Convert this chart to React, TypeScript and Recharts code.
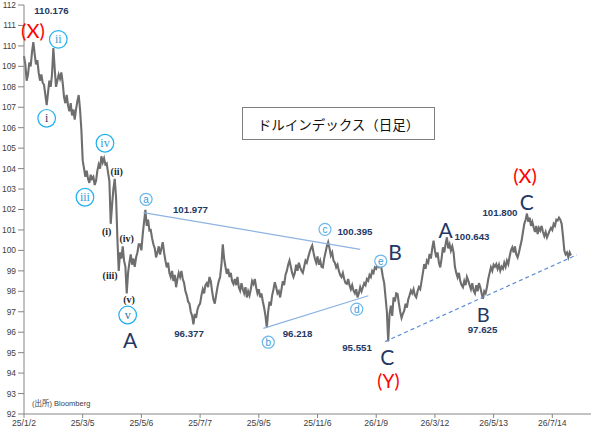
import React from 'react'
import { LineChart, Line, XAxis, YAxis, ReferenceLine, ReferenceDot } from 'recharts'

// daily closes, split by wave leg
const toWaveA = [
  109.5, 109.1, 108.3, 108.6, 109.2, 109.0, 109.7, 110.18,
  109.6, 109.1, 109.3, 108.7, 108.3,
  108.6, 108.2, 108.1, 107.6, 107.1,
  107.7, 108.3, 108.0, 108.6, 109.9,
  108.9, 108.0, 108.3, 108.6, 108.4, 108.7, 108.2, 107.5,
  107.2, 107.6, 107.1, 106.8, 107.2, 106.6, 106.9, 106.4, 106.9, 107.3, 107.6,
  106.9, 105.9, 104.4, 104.0, 103.6, 103.9, 103.5, 103.3, 103.7, 103.5, 103.6,
  103.2, 103.4, 103.9, 104.2, 104.0, 104.6, 104.3, 104.5, 104.2, 104.25,
  103.8, 103.4, 101.3, 102.2, 103.0, 103.5, 102.6, 100.6, 99.0, 99.9, 99.6,
  100.2, 99.5, 99.2, 97.9,
]
const triangleB = [
  98.9, 99.4, 99.8, 99.3, 99.6, 99.2, 99.65, 99.9, 100.3, 100.3, 100.0, 100.8, 101.4, 101.98,
  101.2, 101.5, 100.97, 101.0, 100.6, 100.3, 100.1, 99.66, 99.9, 100.2, 99.8, 100.1,
  100.4, 99.9, 99.5, 99.17, 99.4, 98.9, 98.7, 99.0, 98.5, 98.8, 98.2, 98.6,
  98.9, 98.7, 99.0, 98.6, 98.4, 98.0, 97.8, 97.5, 97.4, 97.0, 96.8, 96.38,
  96.9, 96.7, 97.1, 97.3, 97.4, 97.8, 98.1, 97.9, 98.3, 98.4, 98.2, 98.7,
  98.5, 98.0, 97.6, 97.4, 97.8, 98.2, 98.5, 98.7, 99.3, 100.3, 99.6, 99.2, 98.85,
  99.1, 98.7, 98.9, 98.5, 98.36, 98.6, 98.3, 98.7, 98.2, 98.03, 98.4, 98.1,
  97.9, 98.2, 97.7, 98.0, 97.8, 98.1, 98.5, 98.36, 98.6, 98.2, 97.9, 98.1,
  97.7, 97.9, 97.5, 97.2, 96.8, 96.22,
  97.0, 97.5, 97.3, 97.8, 98.1, 98.44, 98.2, 97.9, 98.0, 97.7, 98.1, 98.5,
  98.3, 98.8, 99.0, 99.3, 99.5, 99.2, 98.9, 98.7, 98.9, 99.3, 99.0, 99.4,
  99.17, 99.0, 98.9, 99.2, 99.5, 99.4, 99.66, 99.9, 100.1, 100.24,
  99.9, 99.6, 99.4, 99.7, 99.3, 99.5, 99.2, 99.17, 99.6, 99.9, 100.2, 100.4,
  100.1, 99.75, 99.9, 99.5, 99.4, 99.17, 99.3, 99.0, 98.8, 98.7, 98.9, 98.6,
  98.4, 98.36, 98.6, 98.3, 98.1, 98.3, 98.03, 97.9, 98.1, 97.7,
  97.9, 98.2, 98.0, 98.2, 98.4, 98.3, 98.6, 98.52, 98.8, 98.7, 99.0, 98.9,
  99.17, 99.1, 99.3, 99.2, 99.42,
]
const toWaveYC = [99.1, 98.7, 98.4, 97.7, 97.0, 95.55]
const abcToX = [
  96.9, 97.3, 96.8, 97.7, 97.5, 97.9, 97.87, 97.4, 97.0, 96.7, 96.9, 97.05,
  97.4, 97.2, 97.6, 97.8, 98.03, 97.9, 98.1, 97.8, 97.7, 98.0, 98.2, 98.1,
  98.5, 98.9, 99.33,
  99.1, 99.5, 99.4, 99.83, 99.6, 100.1, 100.48, 100.0, 99.66, 99.9, 99.4,
  99.17, 99.6, 100.15, 99.9, 100.3, 100.64, 100.1, 100.3, 99.99, 100.2, 99.9,
  99.2, 98.9, 98.68, 98.9, 98.5, 98.3, 98.2, 98.5, 98.3, 98.7, 98.52, 98.3,
  98.1, 98.4, 98.03, 97.9, 98.3, 98.0, 98.4, 98.2, 97.9, 97.63,
  98.0, 97.9, 98.2, 98.6, 98.9, 99.17, 99.0, 99.3, 99.2, 99.33, 99.1, 99.3,
  99.0, 99.2, 99.1, 99.4, 99.2, 99.5, 99.33, 99.7, 100.0, 100.15, 99.9, 100.2,
  99.8, 99.66, 99.9, 100.2, 100.48,
  100.9, 101.3, 101.5, 101.8, 101.4, 101.6, 101.2, 101.4, 101.13, 100.9, 101.2,
  100.8, 101.1, 100.97, 101.2, 100.9, 100.7, 100.9, 100.64, 100.8, 100.97, 101.1,
  101.0, 101.3, 101.2, 101.5, 101.46, 101.6, 101.5, 101.3, 100.7, 99.99, 99.8,
  99.9, 99.66, 99.9, 99.75,
]

const dateLabels = ['25/1/2', '25/3/5', '25/5/6', '25/7/7', '25/9/5', '25/11/6', '26/1/9', '26/3/12', '26/5/13', '26/7/14']
const xTicks = [0, 44, 88, 132, 176, 220, 264, 308, 352, 396]
const yTicks = [92, 93, 94, 95, 96, 97, 98, 99, 100, 101, 102, 103, 104, 105, 106, 107, 108, 109, 110, 111, 112]

// annotations, anchored in (trading day, price)
const waveLetters = [
  { t: 'A', x: 79.5, y: 95.65, s: 21 },
  { t: 'B', x: 278.1, y: 99.97, s: 21 },
  { t: 'C', x: 272.3, y: 94.82, s: 21 },
  { t: 'A', x: 316.1, y: 101.0, s: 21 },
  { t: 'B', x: 344.3, y: 96.9, s: 20 },
  { t: 'C', x: 376.8, y: 102.38, s: 21 },
]
const degreeLabels = [
  { t: '(X)', x: 6.7, y: 110.78, s: 20 },
  { t: '(Y)', x: 273.1, y: 93.62, s: 19 },
  { t: '(X)', x: 375.6, y: 103.69, s: 20 },
]
const levelLabels = [
  { t: '110.176', x: 20.6, y: 111.73 },
  { t: '96.377', x: 123.7, y: 95.96 },
  { t: '101.977', x: 124.8, y: 102.02 },
  { t: '96.218', x: 205, y: 95.96 },
  { t: '100.395', x: 248.1, y: 100.9 },
  { t: '95.551', x: 249.6, y: 95.23 },
  { t: '100.643', x: 335.8, y: 100.67 },
  { t: '97.625', x: 343.7, y: 96.12 },
  { t: '101.800', x: 356.8, y: 101.83 },
]
const circledRoman = [
  { t: 'i', x: 17, y: 106.46, c: '#1f3864' },
  { t: 'ii', x: 25.7, y: 110.32, c: '#3a9ad9' },
  { t: 'iii', x: 45.7, y: 102.6, c: '#3a9ad9' },
  { t: 'iv', x: 60.7, y: 105.24, c: '#3a9ad9' },
  { t: 'v', x: 77.7, y: 96.84, c: '#2e74b5' },
]
const subWaves = [
  { t: '(ii)', x: 69.5, y: 103.88 },
  { t: '(i)', x: 62, y: 100.91 },
  { t: '(iv)', x: 77, y: 100.56 },
  { t: '(iii)', x: 64.5, y: 98.75 },
  { t: '(v)', x: 78.7, y: 97.61 },
]
const triangleLetters = [
  { t: 'a', x: 91.5, y: 102.5 },
  { t: 'b', x: 183.1, y: 95.51 },
  { t: 'c', x: 225.6, y: 101.03 },
  { t: 'd', x: 249.4, y: 97.13 },
  { t: 'e', x: 267.4, y: 99.48 },
]

const closes = [...toWaveA, ...triangleB, ...toWaveYC, ...abcToX]
const rows = closes.map((v, i) => ({ i, v }))

const NAVY = '#1f3864'
const label = (t: string, style: any) => (p: any) => (
  <text x={p.cx} y={p.cy} textAnchor="middle" dominantBaseline="central" {...style}>{t}</text>
)
const circled = (t: string, r: number, stroke: string, color: string, fs: number, font: string) => (p: any) => (
  <g>
    <circle cx={p.cx} cy={p.cy} r={r} fill="#fff" stroke={stroke} strokeWidth={1.2} />
    <text x={p.cx} y={p.cy} textAnchor="middle" dominantBaseline="central" fontSize={fs} fontFamily={font} fill={color}>{t}</text>
  </g>
)

export default function App() {
  return (
    <div style={{ position: 'absolute', left: 0, top: 0, width: 604, height: 444, background: '#fff' }}>
      <LineChart width={604} height={444} data={rows} margin={{ top: 5, right: 13, bottom: 10, left: 0 }}>
        <XAxis
          type="number"
          dataKey="i"
          domain={[0, 425]}
          ticks={xTicks}
          tickFormatter={(v) => dateLabels[xTicks.indexOf(v)] ?? ''}
          height={20}
          tickSize={4}
          stroke="#868686"
          tick={{ fontSize: 8.6, fill: '#404040', fontFamily: 'Liberation Sans' }}
        />
        <YAxis
          domain={[92, 112]}
          ticks={yTicks}
          interval={0}
          width={24}
          tickSize={6}
          stroke="#868686"
          tick={{ fontSize: 8.4, fill: '#404040', fontFamily: 'Liberation Sans' }}
        />
        <Line dataKey="v" stroke="#6e6e6e" strokeWidth={2.1} strokeLinejoin="miter" dot={false} isAnimationActive={false} />
        <ReferenceLine segment={[{ x: 89.5, y: 101.85 }, { x: 252, y: 100.05 }]} stroke="#8db3e2" strokeWidth={1.2} />
        <ReferenceLine segment={[{ x: 179.4, y: 96.19 }, { x: 258.1, y: 97.78 }]} stroke="#8db3e2" strokeWidth={1.2} />
        <ReferenceLine segment={[{ x: 270.6, y: 95.54 }, { x: 414.3, y: 99.78 }]} stroke="#5b8ed6" strokeWidth={1.2} strokeDasharray="4 3" />
        {levelLabels.map((d, k) => (
          <ReferenceDot key={'l' + k} x={d.x} y={d.y} ifOverflow="visible"
            shape={label(d.t, { fontSize: 9.7, fontWeight: 'bold', fill: NAVY, fontFamily: 'Liberation Sans' })} />
        ))}
        {waveLetters.map((d, k) => (
          <ReferenceDot key={'w' + k} x={d.x} y={d.y} ifOverflow="visible"
            shape={label(d.t, { fontSize: d.s, fill: NAVY, fontFamily: 'Lato' })} />
        ))}
        {degreeLabels.map((d, k) => (
          <ReferenceDot key={'d' + k} x={d.x} y={d.y} ifOverflow="visible"
            shape={label(d.t, { fontSize: d.s, fill: '#ff0000', fontFamily: 'Lato' })} />
        ))}
        {subWaves.map((d, k) => (
          <ReferenceDot key={'s' + k} x={d.x} y={d.y} ifOverflow="visible"
            shape={label(d.t, { fontSize: 10, fill: '#262626', fontFamily: 'Liberation Serif', fontWeight: 'bold' })} />
        ))}
        {circledRoman.map((d, k) => (
          <ReferenceDot key={'r' + k} x={d.x} y={d.y} ifOverflow="visible"
            shape={circled(d.t, 8.8, '#1fb0ef', d.c, 12, 'Liberation Serif')} />
        ))}
        {triangleLetters.map((d, k) => (
          <ReferenceDot key={'t' + k} x={d.x} y={d.y} ifOverflow="visible"
            shape={circled(d.t, 6, '#6cb8ea', '#3a9ad9', 10, 'Liberation Sans')} />
        ))}
      </LineChart>
      <div style={{
        position: 'absolute', left: 242, top: 107, width: 193, height: 33, boxSizing: 'border-box',
        border: '1px solid #7f7f7f', background: '#fff', display: 'flex', alignItems: 'center', justifyContent: 'center',
        fontFamily: '"Noto Sans CJK JP"', fontSize: 13.5, color: '#111',
      }}>
        ドルインデックス（日足）
      </div>
      <div style={{ position: 'absolute', left: 32, top: 397, fontFamily: '"Liberation Sans", "Noto Sans CJK JP"', fontSize: 7.5, color: '#404040' }}>
        (出所) Bloomberg
      </div>
    </div>
  )
}
